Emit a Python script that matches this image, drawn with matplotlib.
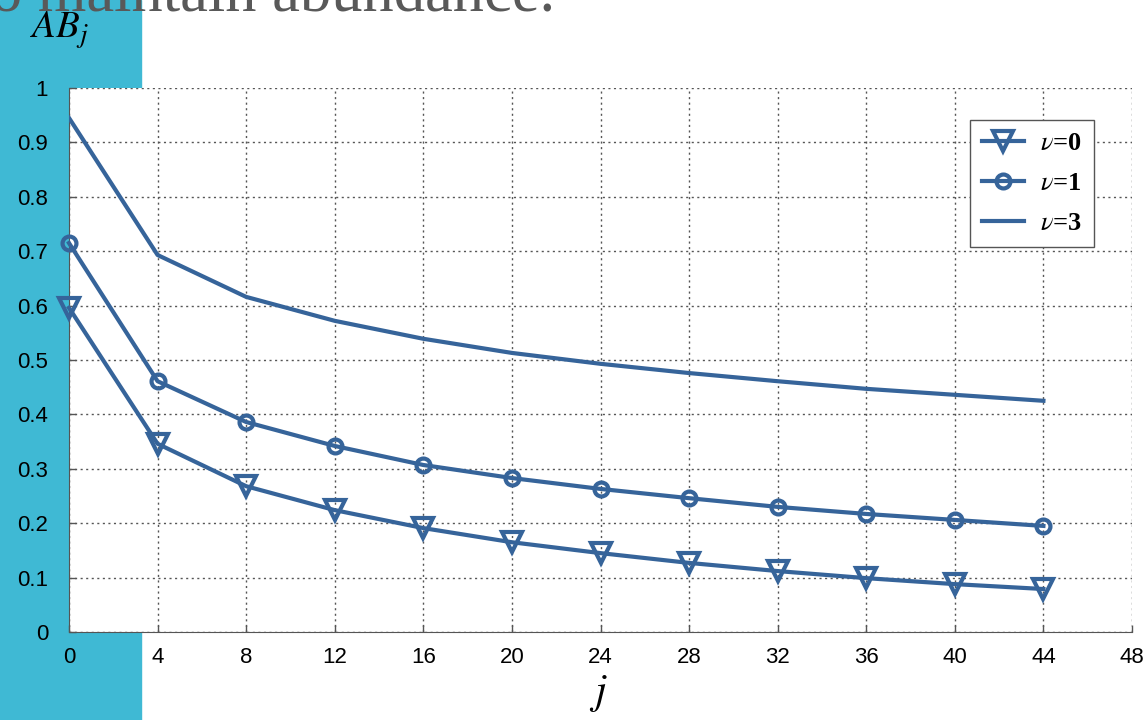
import matplotlib.pyplot as plt
import matplotlib.patches as patches

plt.rcParams['mathtext.fontset'] = 'stix'

j = [0, 4, 8, 12, 16, 20, 24, 28, 32, 36, 40, 44]
ab_nu0 = [0.596, 0.346, 0.268, 0.224, 0.191, 0.165, 0.145, 0.127, 0.112, 0.099, 0.088, 0.079]
ab_nu1 = [0.715, 0.461, 0.386, 0.342, 0.307, 0.283, 0.263, 0.246, 0.230, 0.217, 0.206, 0.195]
ab_nu3 = [0.945, 0.693, 0.616, 0.572, 0.539, 0.513, 0.493, 0.476, 0.461, 0.447, 0.436, 0.425]
xticks = list(range(0, 49, 4))
yticks = [0, 0.1, 0.2, 0.3, 0.4, 0.5, 0.6, 0.7, 0.8, 0.9, 1]
ytick_labels = ['0', '0.1', '0.2', '0.3', '0.4', '0.5', '0.6', '0.7', '0.8', '0.9', '1']

blue = '#36649A'

fig = plt.figure(figsize=(11.48, 7.2), dpi=100)
fig.patches.append(patches.Rectangle((0, 0), 141 / 1148, 1, transform=fig.transFigure,
                                     color='#3FB9D4', zorder=0))
fig.text(555 / 1148, 1 - 11 / 720, 'o maintain abundance.', fontsize=45, color='#595959',
         family='Liberation Serif', va='baseline', ha='right', zorder=5)

ax = fig.add_axes([69 / 1148, 1 - 632 / 720, (1132 - 69) / 1148, (632 - 88) / 720])
ax.set_zorder(2)
ax.set_facecolor('white')

ax.plot(j, ab_nu0, color=blue, lw=3, marker='v', ms=14, mfc='none', mew=3,
        label=r'$\mathit{\nu}$=0', clip_on=False, zorder=3)
ax.plot(j, ab_nu1, color=blue, lw=3, marker='o', ms=10, mfc='none', mew=3,
        label=r'$\mathit{\nu}$=1', clip_on=False, zorder=3)
ax.plot(j, ab_nu3, color=blue, lw=3, label=r'$\mathit{\nu}$=3', zorder=3)

ax.set_xlim(0, 48)
ax.set_ylim(0, 1)
ax.set_xticks(xticks)
ax.set_yticks(yticks)
ax.set_yticklabels(ytick_labels)
ax.tick_params(direction='in', length=5, width=1, color='#555555', labelsize=16,
               labelcolor='black')
ax.tick_params(axis='x', pad=11)
ax.tick_params(axis='y', pad=15)
for lab in ax.get_xticklabels() + ax.get_yticklabels():
    lab.set_family('Liberation Sans')
ax.grid(True, linestyle=(0, (1.5, 2.5)), color='#555555', lw=1)
ax.spines['top'].set_visible(False)
ax.spines['right'].set_visible(False)
ax.spines['left'].set_color('#555555')
ax.spines['bottom'].set_color('#555555')

leg = ax.legend(loc='upper right', bbox_to_anchor=(0.964, 0.941), borderaxespad=0,
                fancybox=False, framealpha=1, edgecolor='#555555', handlelength=1.6,
                prop={'family': 'Liberation Serif', 'weight': 'bold', 'size': 19},
                borderpad=0.45, labelspacing=0.62, handletextpad=0.6)
leg.get_frame().set_linewidth(1)

fig.text(30 / 1148, 1 - 38 / 720, r'$AB_j$', fontsize=28, va='baseline', ha='left', zorder=5)
fig.text(598 / 1148, 1 - 703 / 720, r'$j$', fontsize=30, va='baseline', ha='center')

fig.savefig('out.png', dpi=100)
